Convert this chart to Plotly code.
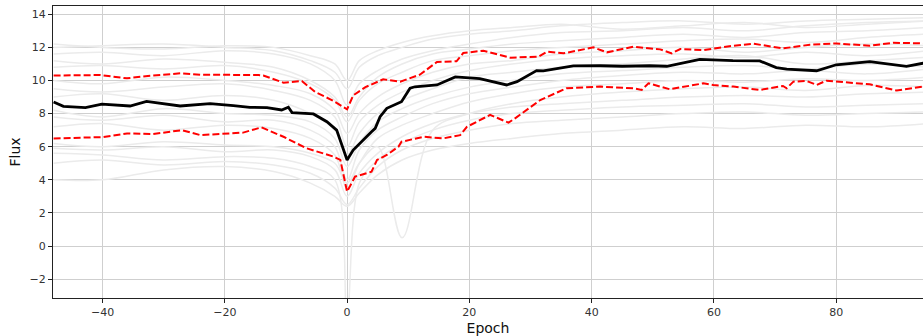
import plotly.graph_objects as go

# ---------------- data ----------------
GRAY_X = [-48, -40, -30, -20, -12, -6, -2, 0, 2, 5, 9, 14, 20, 27, 35, 45, 55, 65, 75, 85, 95]
GRAY_LINES = [
    [12.0, 12.1, 12.2, 12.0, 11.8, 11.2, 10.5, 9.5, 10.8, 11.5, 12.0, 12.5, 12.8, 13.0, 13.3, 13.5, 13.6, 13.4, 13.6, 13.7, 13.8],
    [11.6, 11.7, 11.5, 11.8, 11.6, 11.0, 10.0, 8.5, 9.8, 10.6, 11.3, 11.8, 12.2, 12.6, 12.9, 13.0, 13.2, 13.0, 13.3, 13.5, 13.6],
    [11.2, 11.0, 11.3, 11.1, 10.8, 10.0, 9.0, 7.8, 9.0, 10.2, 11.0, 11.6, 11.9, 12.2, 12.4, 12.6, 12.8, 12.6, 12.9, 13.0, 13.2],
    [10.8, 10.9, 10.7, 10.9, 10.5, 9.8, 8.8, 7.5, 8.8, 9.8, 10.5, 11.2, 11.5, 11.8, 12.0, 12.2, 12.4, 12.5, 12.3, 12.6, 12.8],
    [10.0, 9.8, 10.2, 10.0, 9.7, 9.2, 8.2, 6.8, 8.0, 9.0, 9.8, 10.5, 11.0, 11.2, 11.6, 11.8, 12.0, 11.7, 12.0, 12.2, 12.1],
    [9.5, 9.3, 9.6, 9.8, 9.4, 8.8, 7.8, 6.0, 7.5, 8.5, 9.3, 10.0, 10.6, 11.0, 11.3, 11.5, 11.6, 11.4, 11.7, 11.5, 11.8],
    [9.0, 9.2, 8.8, 9.1, 8.8, 8.0, 7.0, 5.5, 6.8, 8.0, 8.8, 9.5, 10.2, 10.5, 10.8, 11.0, 11.3, 11.5, 11.0, 11.2, 11.4],
    [8.2, 7.8, 8.3, 8.0, 7.9, 7.5, 6.5, 4.8, 6.2, 7.5, 8.3, 9.0, 9.6, 10.0, 10.4, 10.6, 10.8, 10.9, 10.7, 11.0, 10.8],
    [7.8, 7.6, 7.9, 7.5, 7.6, 7.0, 6.0, 4.0, 5.8, 7.0, 7.8, 8.6, 9.2, 9.6, 10.0, 10.3, 10.5, 10.4, 10.6, 10.4, 10.7],
    [7.2, 7.4, 7.0, 7.3, 7.1, 6.5, 5.5, 3.5, 5.0, 6.5, 7.3, 8.0, 8.7, 9.2, 9.6, 9.8, 10.0, 9.9, 10.1, 10.0, 10.2],
    [6.2, 6.0, 6.3, 6.1, 6.0, 5.6, 5.0, 3.8, 5.0, 6.0, 0.5, 7.0, 8.0, 8.6, 9.0, 9.3, 9.5, 9.6, 9.4, 9.7, 9.6],
    [5.9, 5.8, 6.0, 5.7, 5.8, 5.4, 4.6, 3.0, 4.4, 5.6, 6.6, 7.4, 8.0, 8.4, 8.6, 8.8, 9.0, 9.1, 9.0, 9.2, 9.3],
    [5.6, 5.5, 5.2, 5.4, 5.3, 4.8, 4.0, -4.0, 3.8, 5.2, 6.2, 7.0, 7.6, 8.0, 8.2, 8.4, 8.5, 8.6, 8.4, 8.5, 8.6],
    [5.0, 5.2, 4.9, 5.1, 4.9, 4.4, 3.5, 2.5, 3.5, 4.8, 5.8, 6.5, 7.0, 7.4, 7.6, 7.8, 8.0, 8.1, 7.9, 8.0, 8.1],
    [4.0, 4.0, 4.6, 4.8, 4.5, 3.8, 3.0, 2.4, 3.2, 4.3, 5.2, 5.8, 6.2, 6.5, 6.8, 7.0, 7.2, 7.1, 7.3, 7.2, 7.4],
    [12.2, 12.0, 11.9, 12.1, 12.0, 11.5, 11.0, 10.0, 11.2, 11.8, 12.3, 12.7, 13.0, 13.2, 13.4, 13.1, 13.3, 13.5, 13.2, 13.4, 13.6],
]

MEAN_X = [-48, -46.4, -42.8, -40.1, -35.5, -32.8, -27.3, -22.4, -18.6, -15.9, -13.1, -10.7, -9.6, -9.0,
          -5.5, -3.3, -1.7, -0.9, 0, 1, 2.7, 4.0, 4.6, 5.4, 6.5, 8.1, 8.9, 10.3, 11.1, 14.7, 17.7, 21.7,
          24, 26.1, 27.8, 31.0, 32.1, 37.0, 41.4, 45, 49.5, 52.3, 57.7, 63.1, 67.5, 70.2, 71.9, 76.8,
          80.0, 85.5, 91.5, 94.2, 96]
MEAN_Y = [8.70, 8.44, 8.36, 8.57, 8.46, 8.74, 8.46, 8.60, 8.48, 8.38, 8.36, 8.22, 8.38, 8.06,
          7.98, 7.51, 7.0, 6.2, 5.2, 5.8, 6.45, 6.9, 7.11, 7.81, 8.32, 8.62, 8.72, 9.53, 9.62, 9.73, 10.22, 10.11,
          9.9, 9.73, 9.93, 10.6, 10.58, 10.88, 10.89, 10.86, 10.89, 10.86, 11.28, 11.2, 11.18, 10.78, 10.68, 10.59,
          10.95, 11.14, 10.85, 11.04, 11.05]

UPPER_X = [-48, -40.4, -36, -32.2, -27.3, -24, -14.5, -13.7, -10.4, -7.4, -5.2, -2.5, 0, 1, 3, 5.9, 8.7,
           11.9, 14.7, 17.9, 19, 22.3, 26.7, 31.3, 32.7, 35.4, 40.3, 42.5, 46.8, 51.2, 53.1, 54.5, 58.3,
           63.2, 66.5, 71.3, 75.7, 80, 85.5, 89.3, 94.2, 96]
UPPER_Y = [10.3, 10.33, 10.13, 10.29, 10.43, 10.35, 10.33, 10.3, 9.87, 9.97, 9.3, 8.82, 8.26, 9.1, 9.6, 10.07, 9.93,
           10.35, 11.12, 11.16, 11.66, 11.8, 11.38, 11.44, 11.74, 11.64, 12.0, 11.7, 12.04, 11.88, 11.64, 11.9, 11.84,
           12.1, 12.22, 11.94, 12.16, 12.24, 12.1, 12.28, 12.24, 12.24]

LOWER_X = [-48, -40, -36, -31.7, -27, -24, -17, -14, -10.4, -6.6, -2.2, -1.1, 0, 1.3, 4, 4.9, 6.5, 8.4, 8.9,
           12.5, 15.7, 18.5, 19.6, 23.4, 26.4, 27.7, 31.6, 35.9, 41.4, 46.8, 48.2, 49.3, 52.8, 58.3, 59.9,
           63.2, 67.5, 71.3, 71.9, 73, 75.2, 76.8, 78.4, 85.5, 89.9, 94.2, 96]
LOWER_Y = [6.5, 6.58, 6.8, 6.77, 7.0, 6.7, 6.85, 7.17, 6.6, 5.9, 5.4, 5.2, 3.28, 4.19, 4.49, 5.2, 5.5, 6.0, 6.3,
           6.6, 6.5, 6.7, 7.2, 7.92, 7.45, 7.77, 8.82, 9.53, 9.63, 9.53, 9.43, 9.83, 9.47, 9.83, 9.73,
           9.63, 9.43, 9.67, 9.53, 9.93, 9.97, 9.73, 9.99, 9.77, 9.39, 9.63, 9.65]

X_TICKS = [-40, -20, 0, 20, 40, 60, 80]
Y_TICKS = [-2, 0, 2, 4, 6, 8, 10, 12, 14]

# ---------------- figure ----------------
fig = go.Figure()
for ys in GRAY_LINES:
    fig.add_trace(go.Scatter(x=GRAY_X, y=ys, mode="lines", line=dict(color="#ebebeb", width=1.5),
                             line_shape="spline", hoverinfo="skip", showlegend=False))

fig.add_trace(go.Scatter(x=UPPER_X, y=UPPER_Y, mode="lines",
                         line=dict(color="#ff0000", width=2, dash="7px,3px"), showlegend=False))
fig.add_trace(go.Scatter(x=LOWER_X, y=LOWER_Y, mode="lines",
                         line=dict(color="#ff0000", width=2, dash="7px,3px"), showlegend=False))
fig.add_trace(go.Scatter(x=MEAN_X, y=MEAN_Y, mode="lines",
                         line=dict(color="#000000", width=2.8), showlegend=False))

axis_common = dict(
    showgrid=True, gridcolor="#cfcfcf", gridwidth=1, zeroline=False,
    showline=True, linecolor="#222222", linewidth=1,
    ticks="outside", ticklen=4, tickwidth=1, tickcolor="#222222",
    tickfont=dict(family="DejaVu Sans", size=11, color="#333333"),
)

fig.update_layout(
    width=923, height=336,
    margin=dict(l=53, r=0, t=6, b=38),
    paper_bgcolor="white", plot_bgcolor="white",
    xaxis=dict(range=[-48.1, 94.2], tickvals=X_TICKS, ticktext=["\u221240", "\u221220", "0", "20", "40", "60", "80"],
               mirror=True,
               title=dict(text="Epoch", font=dict(family="DejaVu Sans", size=14, color="#111111"), standoff=4),
               **axis_common),
    yaxis=dict(range=[-3.14, 14.5], tickvals=Y_TICKS, ticktext=["\u22122", "0", "2", "4", "6", "8", "10", "12", "14"],
               title=dict(text="Flux", font=dict(family="DejaVu Sans", size=14, color="#111111"), standoff=5),
               **axis_common),
)

fig.write_html("out.html", config={"displayModeBar": False},
               post_script="document.body.style.margin='0';document.body.style.overflow='hidden';")
